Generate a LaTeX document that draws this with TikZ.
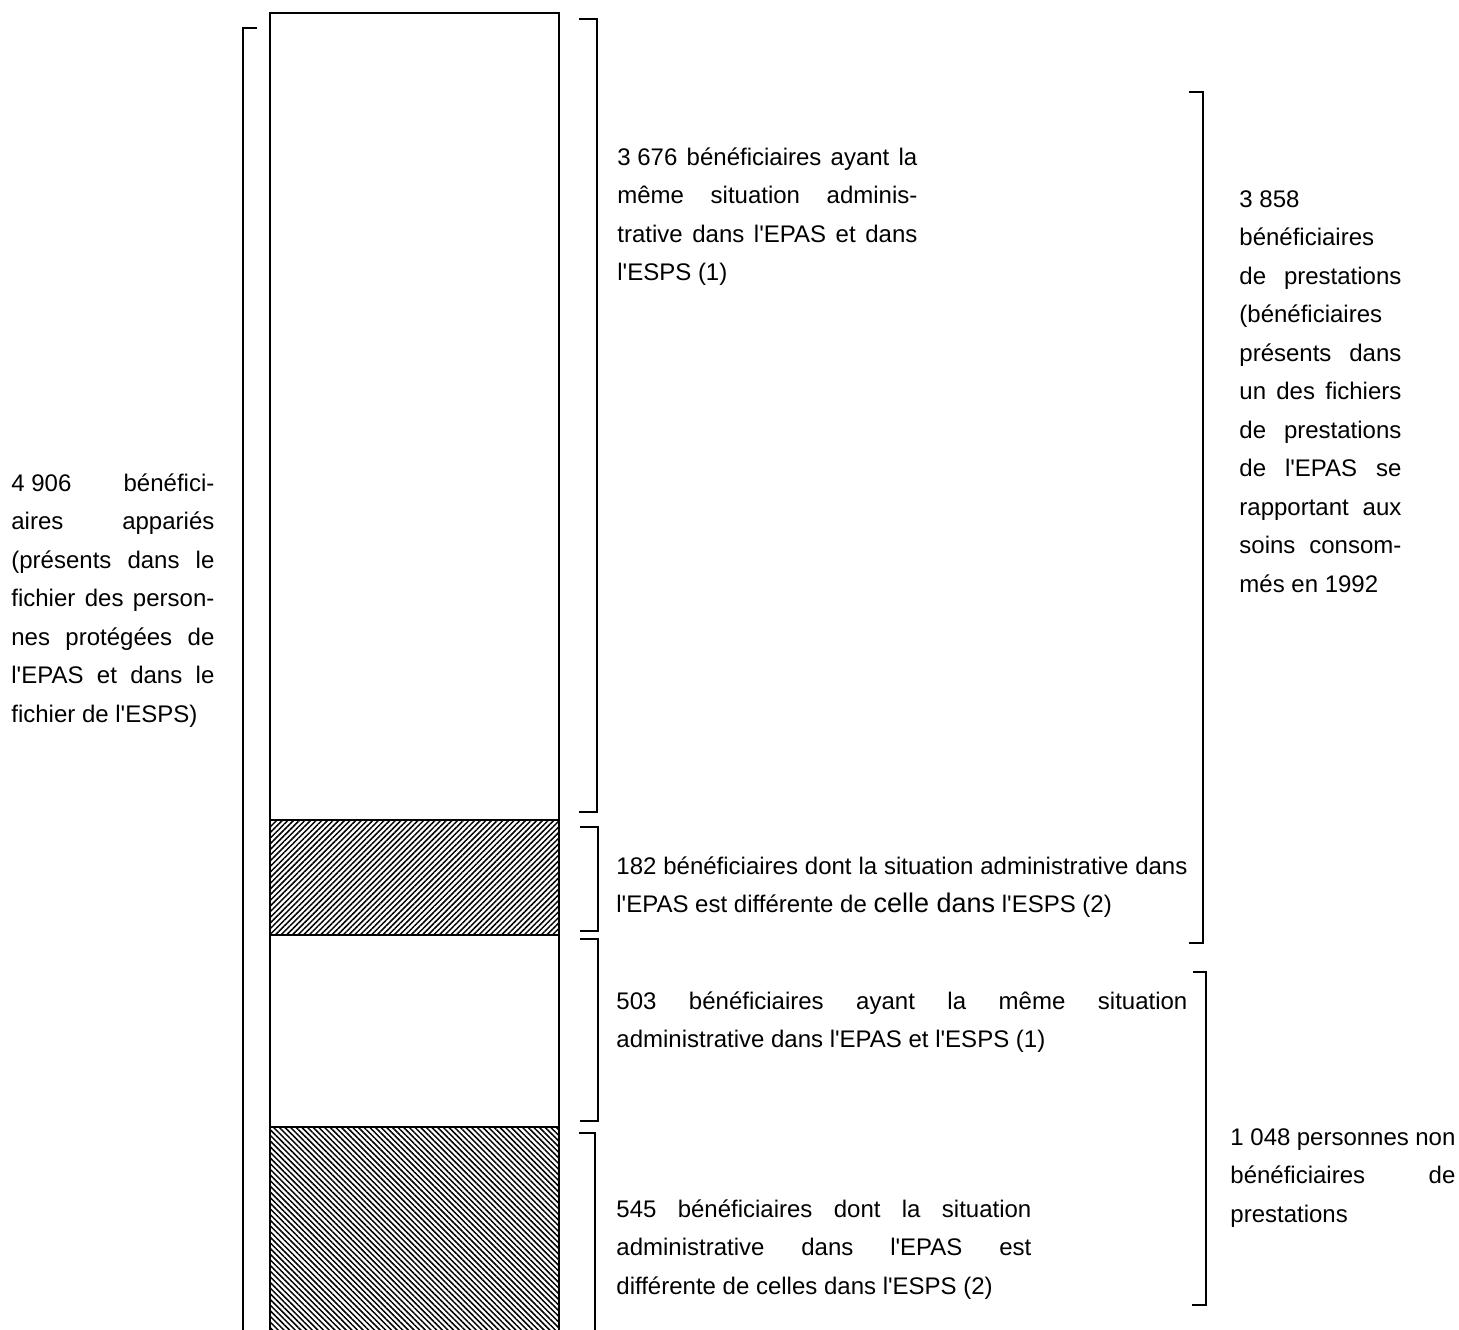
\documentclass[tikz,border=0pt]{standalone}
\usepackage{fontspec}
\setmainfont{Liberation Sans}[Ligatures=TeXOff]
\usetikzlibrary{patterns.meta}
\newcommand\JL[1]{\hbox to \linewidth{#1}}
\newcommand\LL[1]{\hbox to \linewidth{#1\hfil}}
\newcommand\blk[2]{\parbox[t]{#1}{\fontsize{12}{19.25}\selectfont\hbadness=10000 \hfuzz=30pt #2}}
\tikzset{
  txt/.style={inner sep=0pt, anchor=base west},
  brk/.style={line width=0.8pt},
  col/.style={line width=0.9pt},
  hatchA/.style={pattern={Lines[angle=45,distance=2pt,line width=0.75pt]}},
  hatchB/.style={pattern={Lines[angle=-45,distance=2pt,line width=0.75pt]}}
}
\begin{document}
\begin{tikzpicture}[x=0.5pt,y=-0.5pt]
\useasboundingbox (0,0) rectangle (1459,1329);
\clip (0,0) rectangle (1459,1329);
% hatched segments
\fill[hatchA] (270,820) rectangle (559,935);
\fill[hatchB] (270,1127) rectangle (559,1345);
% column
\draw[col] (270,1345) |- (559,13) -- (559,1345);
\draw[col] (270,820) -- (559,820);
\draw[col] (270,935) -- (559,935);
\draw[col] (270,1127) -- (559,1127);
% left bracket
\draw[brk] (257,28) -| (243,1345);
% brackets beside column
\draw[brk] (579,19) -| (597,812) -- (579,812);
\draw[brk] (580,827) -| (598,931) -- (580,931);
\draw[brk] (580,939) -| (598,1121) -- (580,1121);
\draw[brk] (579,1133) -| (595,1345);
% far right brackets
\draw[brk] (1189,92) -| (1203,943) -- (1189,943);
\draw[brk] (1193,972) -| (1206,1305) -- (1192,1305);
% texts
\node[txt] (t1) at (617,165) {\blk{150pt}{%
\JL{\mbox{3 676} bénéficiaires ayant la}
\JL{même situation adminis-}
\JL{trative dans l'EPAS et dans}
\LL{l'ESPS (1)}}};
\node[txt] (t2) at (1239,207) {\blk{81pt}{%
\LL{3 858}
\LL{bénéficiaires}
\JL{de prestations}
\LL{(bénéficiaires}
\JL{présents dans}
\JL{un des fichiers}
\JL{de prestations}
\JL{de l'EPAS se}
\JL{rapportant aux}
\JL{soins consom-}
\LL{més en 1992}}};
\node[txt] (t3) at (11,491) {\blk{101.5pt}{%
\JL{\mbox{4 906} bénéfici-}
\JL{aires appariés}
\JL{(présents dans le}
\JL{fichier des person-}
\JL{nes protégées de}
\JL{l'EPAS et dans le}
\LL{fichier de l'ESPS)}}};
\node[txt] (t4) at (616,874) {\blk{285.5pt}{%
\JL{182 bénéficiaires dont la situation administrative dans}
\LL{l'EPAS est différente de {\fontsize{13.5}{19.25}\selectfont celle dans} l'ESPS (2)}}};
\node[txt] (t5) at (616,1009) {\blk{285.5pt}{%
\JL{503 bénéficiaires ayant la même situation}
\LL{administrative dans l'EPAS et l'ESPS (1)}}};
\node[txt] (t6) at (1230,1145) {\blk{112.5pt}{%
\JL{\mbox{1 048} personnes non}
\JL{bénéficiaires de}
\LL{prestations}}};
\node[txt] (t7) at (616,1217) {\blk{207.5pt}{%
\JL{545 bénéficiaires dont la situation}
\JL{administrative dans l'EPAS est}
\LL{différente de celles dans l'ESPS (2)}}};
\end{tikzpicture}
\end{document}
